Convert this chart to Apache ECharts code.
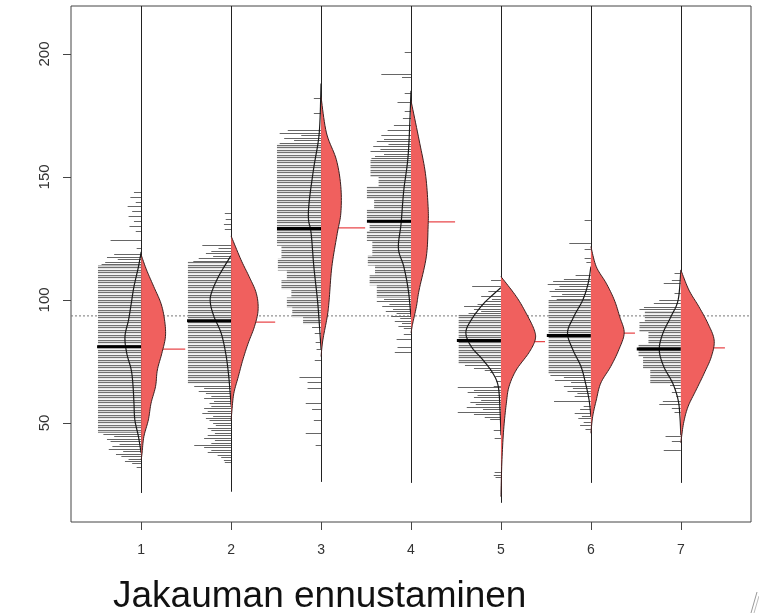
<!DOCTYPE html>
<html>
<head>
<meta charset="utf-8">
<script src="https://cdn.jsdelivr.net/npm/echarts@6/dist/echarts.min.js"></script>
<style>
html, body { margin: 0; padding: 0; background: #fff; }
#chart { width: 759px; height: 614px; }
</style>
</head>
<body>
<div id="chart"></div>
<script>
// groups on the x axis
const groups = [1, 2, 3, 4, 5, 6, 7]
const yTicks = [50, 100, 150, 200]
const refLevel = 93.5
const lineBottom = [21.5, 22, 26, 25.6, 17.5, 25.6, 25.6]
const medianObs = [81, 91.5, 129, 132, 83.5, 85.5, 80]
const medianPred = [80, 91, 129.3, 131.7, 83, 86.5, 80.5]

// observed data, dense parts: [from, to, length]
const obsBlocks1 = [[46, 114, 0.48]]
const obsBlocks2 = [[66, 115.5, 0.48]]
const obsBlocks3 = [[122, 163.5, 0.49], [117, 122, 0.44], [112, 117, 0.48], [108, 112, 0.38], [104, 108, 0.44], [101, 104, 0.33], [97, 101, 0.38], [93, 97, 0.32], [90, 93, 0.2]]
const obsBlocks4 = [[150, 157, 0.45], [146, 150, 0.36], [141, 146, 0.49], [137, 141, 0.41], [133, 137, 0.49], [128, 133, 0.46], [124, 128, 0.49], [118, 124, 0.43], [114, 118, 0.48], [110, 114, 0.4], [106, 110, 0.46], [101, 106, 0.38]]
const obsBlocks5 = [[74, 94, 0.47]]
const obsBlocks6 = [[70, 100, 0.47]]
const obsBlocks7 = [[91, 95.5, 0.4], [87, 91, 0.46], [82, 87, 0.36], [77, 82, 0.47], [72, 77, 0.42], [66, 72, 0.34]]

// observed data, single lines: [value, length]
const obsLines1 = [[144, 0.08], [142, 0.12], [140, 0.06], [138, 0.15], [136, 0.1], [134, 0.14], [132, 0.08], [130, 0.13], [128, 0.06], [124.5, 0.34], [121, 0.05], [118.5, 0.3], [117.5, 0.38], [116.5, 0.26], [115.5, 0.4], [114.5, 0.44], [45.5, 0.42], [44.5, 0.3], [43.5, 0.38], [42.5, 0.34], [41.5, 0.24], [40.5, 0.32], [39.5, 0.36], [38.5, 0.2], [37.5, 0.28], [36.5, 0.22], [35.5, 0.14], [34.5, 0.18], [33.5, 0.1], [32, 0.05]]
const obsLines2 = [[135.5, 0.07], [133, 0.06], [131, 0.08], [129, 0.07], [122.5, 0.32], [121, 0.14], [120, 0.22], [119, 0.28], [118, 0.2], [117, 0.36], [116, 0.42], [65, 0.41], [64, 0.3], [63, 0.36], [62, 0.28], [61, 0.22], [60, 0.3], [59, 0.19], [58, 0.24], [57, 0.22], [56, 0.3], [55, 0.26], [54, 0.32], [53, 0.2], [52, 0.28], [51, 0.24], [50, 0.2], [49, 0.17], [48, 0.26], [47, 0.22], [46, 0.18], [45, 0.26], [44, 0.3], [43, 0.18], [42, 0.22], [41, 0.41], [40, 0.3], [39, 0.22], [38, 0.26], [37, 0.15], [36, 0.11], [35, 0.08], [34, 0.07]]
const obsLines3 = [[182, 0.08], [176, 0.08], [169, 0.37], [168, 0.46], [167, 0.22], [166, 0.41], [165, 0.3], [164, 0.46], [89, 0.1], [86.5, 0.07], [83, 0.06], [80, 0.05], [75.5, 0.07], [68.5, 0.24], [66.5, 0.15], [64, 0.15], [58, 0.17], [55.5, 0.1], [51, 0.08], [46, 0.17], [41, 0.06]]
const obsLines4 = [[201, 0.07], [192, 0.33], [190.5, 0.1], [184, 0.07], [180.5, 0.15], [177, 0.07], [174, 0.09], [171, 0.19], [169, 0.26], [167, 0.33], [165.5, 0.3], [164.5, 0.38], [163.5, 0.25], [162.5, 0.42], [161.5, 0.34], [160.5, 0.45], [159.5, 0.3], [158.5, 0.4], [157.5, 0.44], [100.5, 0.3], [99.5, 0.38], [98.5, 0.24], [97.5, 0.32], [96.5, 0.2], [95.5, 0.28], [94.5, 0.16], [93.5, 0.22], [92.5, 0.12], [91.5, 0.18], [90.5, 0.1], [89.5, 0.14], [88.5, 0.08], [86, 0.08], [84, 0.16], [81, 0.15], [79, 0.18]]
const obsLines5 = [[108, 0.11], [105.5, 0.32], [103.5, 0.14], [101.5, 0.22], [100.5, 0.1], [99.5, 0.18], [98.5, 0.26], [97.5, 0.41], [96.5, 0.3], [95.5, 0.22], [94.5, 0.36], [73.5, 0.4], [72.5, 0.3], [71.5, 0.18], [70.5, 0.12], [69, 0.06], [67, 0.05], [65, 0.08], [64.5, 0.48], [63.5, 0.3], [62.5, 0.37], [61.5, 0.26], [60.5, 0.3], [59.5, 0.22], [58.5, 0.34], [57.5, 0.28], [56.5, 0.38], [55.5, 0.2], [54.5, 0.48], [53.5, 0.3], [52.5, 0.18], [51.5, 0.12], [47, 0.08], [44, 0.07], [30, 0.07], [29, 0.08], [28, 0.06]]
const obsLines6 = [[132.5, 0.07], [123, 0.24], [120.5, 0.07], [117, 0.07], [115.5, 0.05], [110, 0.17], [108.5, 0.3], [107.5, 0.42], [106.5, 0.48], [105.5, 0.35], [104.5, 0.4], [103.5, 0.46], [102.5, 0.32], [101.5, 0.44], [100.5, 0.38], [69.5, 0.45], [68.5, 0.3], [67.5, 0.4], [66.5, 0.22], [65, 0.3], [64, 0.2], [63, 0.26], [62, 0.15], [61, 0.18], [59, 0.41], [57, 0.08], [55.5, 0.12], [54, 0.18], [53, 0.1], [52, 0.14], [50.5, 0.08], [49, 0.12], [47.5, 0.06]]
const obsLines7 = [[110.8, 0.07], [108, 0.1], [106.8, 0.19], [102.7, 0.07], [100, 0.24], [98.6, 0.3], [97.3, 0.41], [96.2, 0.46], [65.5, 0.12], [64, 0.07], [62.5, 0.1], [61, 0.05], [59, 0.2], [57.5, 0.24], [56, 0.1], [54.5, 0.07], [44.5, 0.17], [42.5, 0.1], [39, 0.19]]

// density of observed data (left, black curve): [value, width]
const obsDens1 = [[119.5, 0], [113.5, 0.03], [105.4, 0.08], [98.6, 0.11], [91.9, 0.14], [85.1, 0.18], [78.3, 0.16], [71.5, 0.11], [64.8, 0.09], [58, 0.08], [51.2, 0.07], [44.4, 0.03], [37.7, 0]]
const obsDens2 = [[118, 0], [116.3, 0.03], [109.5, 0.14], [102.7, 0.22], [98.6, 0.23], [93.2, 0.19], [86.4, 0.11], [78.3, 0.06], [70.2, 0.03], [62, 0.01], [57, 0]]
const obsDens3 = [[188, 0], [168, 0.02], [154, 0.08], [140.6, 0.13], [133, 0.14], [127, 0.11], [113.5, 0.08], [100, 0.04], [90.6, 0.02], [80, 0]]
const obsDens4 = [[185, 0], [159.6, 0.03], [144.7, 0.08], [131.2, 0.11], [121, 0.14], [113.5, 0.08], [104, 0.03], [93, 0]]
const obsDens5 = [[105, 0], [98.6, 0.19], [91.9, 0.33], [86.6, 0.39], [81, 0.33], [75.6, 0.2], [70.2, 0.09], [64.8, 0.03], [55, 0.01], [45, 0]]
const obsDens6 = [[113.5, 0], [106.8, 0.03], [100, 0.09], [93.2, 0.19], [86.6, 0.26], [79.7, 0.2], [72.9, 0.11], [66.2, 0.06], [59.3, 0.02], [52.6, 0]]
const obsDens7 = [[112, 0], [100, 0.03], [93.2, 0.11], [86.4, 0.2], [79.7, 0.24], [72.9, 0.19], [66.1, 0.09], [59.3, 0.03], [52.6, 0.01], [45, 0]]

// predicted density (right, red): [value, width]
const predDens1 = [[118.3, 0], [112.2, 0.06], [105.4, 0.14], [98.6, 0.22], [91.9, 0.26], [85.1, 0.27], [78.3, 0.23], [71.5, 0.18], [64.8, 0.16], [58, 0.11], [51.2, 0.08], [44.4, 0.03], [37.7, 0.01], [35, 0]]
const predDens2 = [[126, 0], [116.3, 0.11], [109.5, 0.2], [102.7, 0.28], [95.9, 0.3], [89.2, 0.26], [82.4, 0.19], [75.6, 0.13], [68.8, 0.08], [62, 0.03], [55.3, 0.01], [51, 0]]
const predDens3 = [[182.5, 0], [167.9, 0.06], [157, 0.17], [146, 0.22], [135.3, 0.22], [127, 0.18], [113.5, 0.12], [100, 0.09], [93.5, 0.07], [83.7, 0.02], [77, 0]]
const predDens4 = [[181, 0], [165, 0.09], [151.5, 0.16], [137.9, 0.19], [129.7, 0.19], [117.5, 0.17], [104, 0.09], [97.3, 0.06], [90.6, 0.02], [86.6, 0]]
const predDens5 = [[109.5, 0], [101.4, 0.17], [94.6, 0.28], [87.8, 0.37], [83.7, 0.38], [78.5, 0.31], [71.5, 0.17], [64.8, 0.09], [58, 0.06], [47.2, 0.03], [33.7, 0.01], [20, 0]]
const predDens6 = [[121.7, 0], [113.5, 0.06], [106.8, 0.17], [100, 0.26], [93.2, 0.32], [86.6, 0.37], [79.7, 0.31], [72.9, 0.22], [66.2, 0.11], [59.3, 0.06], [52.6, 0.02], [45.8, 0]]
const predDens7 = [[112.2, 0], [104, 0.09], [97.3, 0.2], [90.5, 0.3], [83.7, 0.37], [77, 0.34], [70.2, 0.26], [63.4, 0.17], [56.6, 0.08], [49.8, 0.03], [41.9, 0]]

const obsBlocks = [obsBlocks1, obsBlocks2, obsBlocks3, obsBlocks4, obsBlocks5, obsBlocks6, obsBlocks7]
const obsLines = [obsLines1, obsLines2, obsLines3, obsLines4, obsLines5, obsLines6, obsLines7]
const obsDens = [obsDens1, obsDens2, obsDens3, obsDens4, obsDens5, obsDens6, obsDens7]
const predDens = [predDens1, predDens2, predDens3, predDens4, predDens5, predDens6, predDens7]

const xMin = 0.22, xMax = 7.78, yMin = 9.7, yMax = 219.5
const halfWidth = 0.49
const redFill = '#f0605e'

// striped fill for the dense runs of data lines
const hatch = document.createElement('canvas')
hatch.width = 4
hatch.height = 5
const hctx = hatch.getContext('2d')
const rows = ['#707070', '#d6d6d6', '#707070', '#e6e6e6', '#f4f4f4']
rows.forEach((c, i) => { hctx.fillStyle = c; hctx.fillRect(0, i, 4, 1) })

function spline(pts, steps) {
  const out = []
  for (let i = 0; i < pts.length - 1; i++) {
    const p0 = pts[i - 1] || pts[i], p1 = pts[i], p2 = pts[i + 1], p3 = pts[i + 2] || pts[i + 1]
    for (let s = 0; s < steps; s++) {
      const t = s / steps, t2 = t * t, t3 = t2 * t
      const f = k => 0.5 * ((2 * p1[k]) + (-p0[k] + p2[k]) * t + (2 * p0[k] - 5 * p1[k] + 4 * p2[k] - p3[k]) * t2 + (-p0[k] + 3 * p1[k] - 3 * p2[k] + p3[k]) * t3)
      out.push([f(0), f(1)])
    }
  }
  out.push(pts[pts.length - 1])
  return out
}

const blockData = []
obsBlocks.forEach((list, g) => list.forEach(b => blockData.push([groups[g], b[0], b[1], b[2]])))
const lineData = []
obsLines.forEach((list, g) => list.forEach(l => lineData.push([groups[g], l[0], l[1]])))

let myChart = echarts.init(document.getElementById('chart'))
let option = {
  backgroundColor: '#ffffff',
  animation: false,
  grid: {
    left: 71, right: 8, top: 6, bottom: 92,
    show: true, borderColor: '#444', borderWidth: 1,
    outerBoundsMode: 'none'
  },
  xAxis: {
    type: 'value', min: xMin, max: xMax,
    axisLine: { show: false },
    splitLine: { show: false },
    axisTick: { show: true, length: 8, customValues: groups, lineStyle: { color: '#444' } },
    axisLabel: {
      customValues: groups, margin: 21,
      fontFamily: 'Liberation Sans', fontSize: 14, color: '#333'
    }
  },
  yAxis: {
    type: 'value', min: yMin, max: yMax,
    axisLine: { show: false },
    splitLine: { show: false },
    axisTick: { show: true, length: 8, customValues: yTicks, lineStyle: { color: '#444' } },
    axisLabel: {
      customValues: yTicks, rotate: 90, margin: 19,
      fontFamily: 'Liberation Sans', fontSize: 15, color: '#333'
    }
  },
  graphic: [
    {
      type: 'text', left: 113, top: 578,
      style: { text: 'Jakauman ennustaminen', font: '37px "Liberation Sans", Arial, sans-serif', fill: '#111' }
    },
    { type: 'line', shape: { x1: 751, y1: 613, x2: 757, y2: 592 }, style: { stroke: '#999', lineWidth: 1 } },
    { type: 'line', shape: { x1: 754, y1: 613, x2: 759, y2: 596 }, style: { stroke: '#bbb', lineWidth: 1 } }
  ],
  series: [
    {
      // reference level
      type: 'line', z: 1, silent: true, showSymbol: false,
      data: [[xMin, refLevel], [xMax, refLevel]],
      lineStyle: { color: '#777', width: 1, type: [2, 2] }
    },
    {
      type: 'custom', z: 2, silent: true,
      data: blockData,
      renderItem: function (params, api) {
        const c = api.value(0)
        const p1 = api.coord([c - api.value(3), api.value(2)])
        const p2 = api.coord([c, api.value(1)])
        return {
          type: 'rect',
          shape: { x: p1[0], y: p1[1], width: p2[0] - p1[0], height: p2[1] - p1[1] },
          style: { fill: { image: hatch, repeat: 'repeat' } }
        }
      }
    },
    {
      type: 'custom', z: 2, silent: true,
      data: lineData,
      renderItem: function (params, api) {
        const c = api.value(0)
        const p1 = api.coord([c - api.value(2), api.value(1)])
        const p2 = api.coord([c, api.value(1)])
        const y = Math.round(p1[1]) + 0.5
        return {
          type: 'line',
          shape: { x1: p1[0], y1: y, x2: p2[0], y2: y },
          style: { stroke: '#666', lineWidth: 1 }
        }
      }
    },
    {
      // observed density outline
      type: 'custom', z: 3, silent: true,
      data: groups.map(g => [g]),
      renderItem: function (params, api) {
        const c = api.value(0)
        const cx = api.coord([c, 0])[0]
        const pts = obsDens[params.dataIndex].map(d => api.coord([c - d[1], d[0]]))
        const curve = spline(pts, 10).map(p => [Math.min(p[0], cx), p[1]])
        return { type: 'polyline', shape: { points: curve }, style: { stroke: '#1a1a1a', lineWidth: 1.2, fill: null } }
      }
    },
    {
      // centre lines
      type: 'custom', z: 4, silent: true,
      data: groups.map((g, i) => [g, lineBottom[i]]),
      renderItem: function (params, api) {
        const p1 = api.coord([api.value(0), yMax])
        const p2 = api.coord([api.value(0), api.value(1)])
        const x = Math.round(p1[0]) + 0.5
        return { type: 'line', shape: { x1: x, y1: p1[1], x2: x, y2: p2[1] }, style: { stroke: '#222', lineWidth: 1 } }
      }
    },
    {
      // medians
      type: 'custom', z: 5, silent: true,
      data: groups.map((g, i) => [g, medianObs[i], medianPred[i]]),
      renderItem: function (params, api) {
        const c = api.value(0)
        const a1 = api.coord([c - halfWidth, api.value(1)])
        const a2 = api.coord([c, api.value(1)])
        const b1 = api.coord([c, api.value(2)])
        const b2 = api.coord([c + halfWidth, api.value(2)])
        return {
          type: 'group',
          children: [
            { type: 'line', shape: { x1: b1[0], y1: b1[1], x2: b2[0], y2: b2[1] }, style: { stroke: '#e8474a', lineWidth: 1.3 } },
            { type: 'line', shape: { x1: a1[0], y1: a1[1], x2: a2[0], y2: a2[1] }, style: { stroke: '#000', lineWidth: 3 } }
          ]
        }
      }
    },
    {
      // predicted density
      type: 'custom', z: 6, silent: true,
      data: groups.map(g => [g]),
      renderItem: function (params, api) {
        const c = api.value(0)
        const cx = api.coord([c, 0])[0]
        const pts = predDens[params.dataIndex].map(d => api.coord([c + d[1], d[0]]))
        const curve = spline(pts, 10).map(p => [Math.max(p[0], cx), p[1]])
        return {
          type: 'group',
          children: [
            { type: 'polygon', shape: { points: curve }, style: { fill: redFill, stroke: null } },
            { type: 'polyline', shape: { points: curve }, style: { stroke: '#3a2020', lineWidth: 1, fill: null } }
          ]
        }
      }
    }
  ]
}
myChart.setOption(option)
</script>
</body>
</html>
